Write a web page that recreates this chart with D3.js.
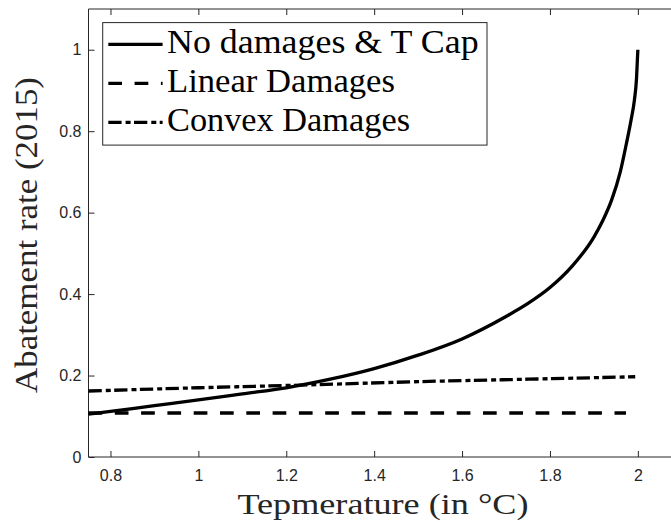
<!DOCTYPE html>
<html>
<head>
<meta charset="utf-8">
<script src="https://cdn.jsdelivr.net/npm/d3@7"></script>
<style>
  body { margin: 0; background: #fff; }
  svg { display: block; }
</style>
</head>
<body>
<svg></svg>
<script>
// temperatures and abatement rates
var capTemp = [0.75, 0.8, 0.9, 1.0, 1.1, 1.2, 1.3, 1.4, 1.5, 1.6, 1.7, 1.75, 1.8, 1.85, 1.9, 1.92, 1.94, 1.96, 1.975, 1.985, 1.992, 1.997, 2.0];
var capRate = [0.105, 0.112, 0.126, 0.140, 0.155, 0.170, 0.191, 0.217, 0.250, 0.290, 0.345, 0.377, 0.416, 0.468, 0.54, 0.58, 0.63, 0.70, 0.775, 0.83, 0.875, 0.93, 1.0];

var linTemp = [0.75, 1.0, 1.25, 1.5, 1.75, 1.973];
var linRate = [0.108, 0.108, 0.108, 0.108, 0.108, 0.108];

var cvxTemp = [0.75, 1.0, 1.25, 1.5, 1.75, 1.994];
var cvxRate = [0.162, 0.170, 0.177, 0.185, 0.191, 0.197];

var seriesNames = ["No damages & T Cap", "Linear Damages", "Convex Damages"];
var xTicks = [0.8, 1, 1.2, 1.4, 1.6, 1.8, 2];
var yTicks = [0, 0.2, 0.4, 0.6, 0.8, 1];

var width = 671;
var height = 522;
var axisColor = "#262626";

var svg = d3.select("svg").attr("width", width).attr("height", height);

var xScale = d3.scaleLinear().domain([0.75, 2.1]).range([88.5, 681.8]);
var yScale = d3.scaleLinear().domain([0, 1.1]).range([457, 9]);

/* box: left + top + bottom (right side is cut off) */
svg.append("path")
  .attr("d", "M" + xScale.range()[1] + "," + yScale(1.1) + "H" + xScale(0.75) + "V" + yScale(0) + "H" + xScale.range()[1])
  .attr("fill", "none")
  .attr("stroke", axisColor)
  .attr("stroke-width", 1);

var xAxis = d3.axisBottom(xScale).tickValues(xTicks).tickSize(-6).tickSizeOuter(0).tickPadding(13)
  .tickFormat(d3.format("~g"));
var xg = svg.append("g").attr("transform", "translate(0," + yScale(0) + ")").call(xAxis);

var xTop = d3.axisTop(xScale).tickValues(xTicks).tickSize(-6).tickSizeOuter(0).tickFormat("");
var xtg = svg.append("g").attr("transform", "translate(0," + yScale(1.1) + ")").call(xTop);

var yAxis = d3.axisLeft(yScale).tickValues(yTicks).tickSize(-6).tickSizeOuter(0).tickPadding(7)
  .tickFormat(d3.format("~g"));
var yg = svg.append("g").attr("transform", "translate(" + xScale(0.75) + ",0)").call(yAxis);

[xg, xtg, yg].forEach(function (g) {
  g.select(".domain").remove();
  g.selectAll("line").attr("stroke", axisColor);
  g.selectAll("text")
    .attr("fill", axisColor)
    .style("font-family", "'Liberation Sans', Arial, sans-serif")
    .style("font-size", "16px");
});

/* lines */
var line = d3.line()
  .x(function (d) { return xScale(d[0]); })
  .y(function (d) { return yScale(d[1]); })
  .curve(d3.curveMonotoneX);

var dashLinear = "13.7,12.6";
var dashConvex = "13.3,4,5,3.4";

svg.append("path")
  .datum(d3.zip(linTemp, linRate))
  .attr("d", line)
  .attr("fill", "none")
  .attr("stroke", "#000")
  .attr("stroke-width", 3.3)
  .attr("stroke-dasharray", dashLinear);

svg.append("path")
  .datum(d3.zip(cvxTemp, cvxRate))
  .attr("d", line)
  .attr("fill", "none")
  .attr("stroke", "#000")
  .attr("stroke-width", 3.3)
  .attr("stroke-dasharray", dashConvex);

svg.append("path")
  .datum(d3.zip(capTemp, capRate))
  .attr("d", line)
  .attr("fill", "none")
  .attr("stroke", "#000")
  .attr("stroke-width", 3.3);

/* axis labels */
svg.append("text")
  .attr("x", 237.5)
  .attr("y", 514)
  .attr("textLength", 291)
  .attr("lengthAdjust", "spacingAndGlyphs")
  .style("font-family", "'Liberation Serif', 'Times New Roman', serif")
  .style("font-size", "30px")
  .attr("fill", axisColor)
  .text("Tepmerature (in \u00B0C)");

svg.append("text")
  .attr("transform", "translate(37,393) rotate(-90)")
  .attr("x", 0)
  .attr("y", 0)
  .attr("textLength", 316)
  .attr("lengthAdjust", "spacingAndGlyphs")
  .style("font-family", "'Liberation Serif', 'Times New Roman', serif")
  .style("font-size", "31px")
  .attr("fill", axisColor)
  .text("Abatement rate (2015)");

/* legend */
var legend = svg.append("g");
legend.append("rect")
  .attr("x", 102.7)
  .attr("y", 22.6)
  .attr("width", 384.3)
  .attr("height", 122.5)
  .attr("fill", "#fff")
  .attr("stroke", axisColor)
  .attr("stroke-width", 1);

var legendDash = [null, dashLinear, dashConvex];
var legendWidth = [311.6, 228, 243];
var legendY = [44.3, 83.3, 122.3];

seriesNames.forEach(function (name, i) {
  legend.append("line")
    .attr("x1", 108.3)
    .attr("x2", 162.6)
    .attr("y1", legendY[i])
    .attr("y2", legendY[i])
    .attr("stroke", "#000")
    .attr("stroke-width", 3.3)
    .attr("stroke-dasharray", legendDash[i]);
  legend.append("text")
    .attr("x", 167)
    .attr("y", legendY[i] + 8.5)
    .attr("textLength", legendWidth[i])
    .attr("lengthAdjust", "spacingAndGlyphs")
    .style("font-family", "'Liberation Serif', 'Times New Roman', serif")
    .style("font-size", "33px")
    .attr("fill", "#000")
    .text(name);
});
</script>
</body>
</html>
